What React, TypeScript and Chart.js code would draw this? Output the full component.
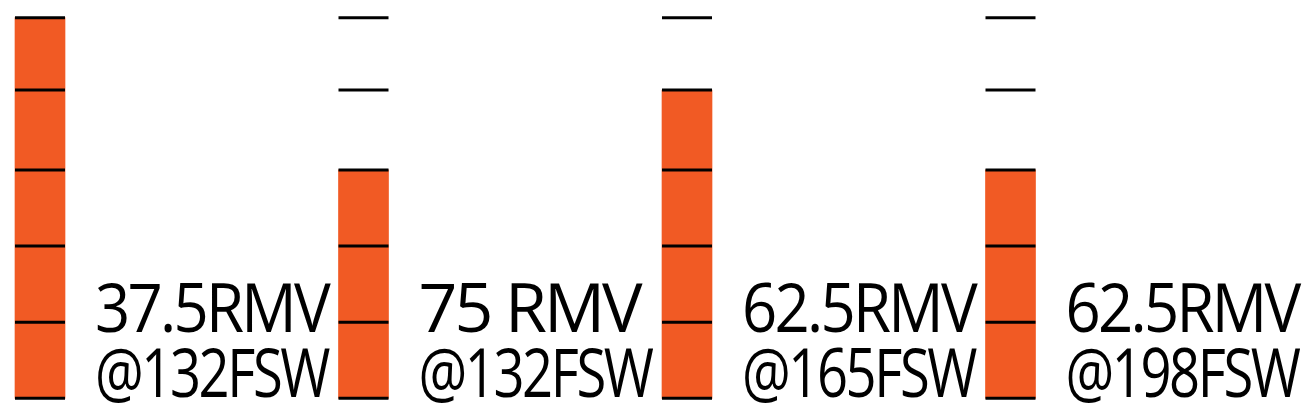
import React, { useEffect, useRef } from "react";
import { Chart, registerables } from "chart.js";
import type { Plugin } from "chart.js";

Chart.register(...registerables);

const ORANGE = "#F15A24";
const INK = "#000000";
const LABEL_FONT = "68px 'Open Sans', sans-serif";
const LABEL_WIDTH = 233;

// one bar per dive profile
const CATEGORIES = ["A", "B", "C", "D"];
const RMV_LABELS = ["37.5RMV", "75 RMV", "62.5RMV", "62.5RMV"];
const DEPTH_LABELS = ["@132FSW", "@132FSW", "@165FSW", "@198FSW"];
// bar height in segments
const BAR_VALUES = [5, 3, 4.05, 3];
// levels where the black divider marks sit
const SEGMENT_LEVELS = [0, 1, 2, 3, 4.05, 5];

const dividerPlugin: Plugin<"bar"> = {
  id: "dividers",
  afterDatasetsDraw(chart) {
    const { ctx } = chart;
    const y = chart.scales.y;
    const meta = chart.getDatasetMeta(0);
    ctx.save();
    ctx.strokeStyle = INK;
    ctx.lineWidth = 3;
    meta.data.forEach((el: any) => {
      const half = el.width / 2;
      SEGMENT_LEVELS.forEach((lvl) => {
        const py = y.getPixelForValue(lvl);
        ctx.beginPath();
        ctx.moveTo(el.x - half, py);
        ctx.lineTo(el.x + half, py);
        ctx.stroke();
      });
    });

    // two-line caption to the right of each bar, squeezed to a fixed width
    ctx.fillStyle = INK;
    ctx.font = LABEL_FONT;
    ctx.textAlign = "left";
    ctx.textBaseline = "alphabetic";
    (ctx as any).letterSpacing = "-3px";
    const base = y.getPixelForValue(0) - 1;
    meta.data.forEach((el: any, i: number) => {
      const tx = el.x + 55;
      ctx.fillText(RMV_LABELS[i], tx, base - 65, LABEL_WIDTH);
      ctx.fillText(DEPTH_LABELS[i], tx, base, LABEL_WIDTH);
    });
    ctx.restore();
  },
};

export default function App() {
  const canvasRef = useRef<HTMLCanvasElement | null>(null);

  useEffect(() => {
    const canvas = canvasRef.current;
    if (!canvas) return;

    const chart = new Chart(canvas, {
      type: "bar",
      data: {
        labels: CATEGORIES,
        datasets: [
          {
            data: BAR_VALUES,
            backgroundColor: ORANGE,
            borderWidth: 0,
            barThickness: 50,
            clip: false as any,
          },
        ],
      },
      options: {
        responsive: true,
        maintainAspectRatio: false,
        animation: false,
        layout: { padding: { left: 40, right: 299.5, top: 17.7, bottom: 11.7 } },
        plugins: { legend: { display: false }, tooltip: { enabled: false } },
        scales: {
          x: { type: "category", offset: false, display: false },
          y: { min: 0, max: 5, display: false },
        },
      },
      plugins: [dividerPlugin],
    });

    return () => chart.destroy();
  }, []);

  return (
    <div
      style={{
        position: "fixed",
        top: 0,
        left: 0,
        width: 1310,
        height: 410,
        background: "#fff",
      }}
    >
      <canvas ref={canvasRef} />
    </div>
  );
}
